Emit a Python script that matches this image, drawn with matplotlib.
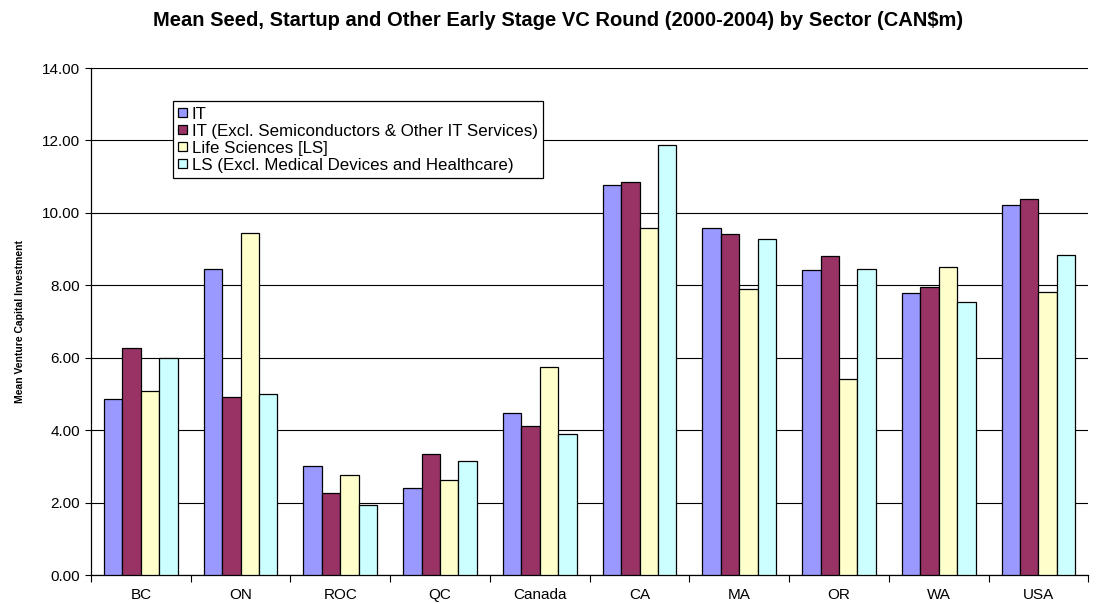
import numpy as np
import matplotlib
matplotlib.use("Agg")
import matplotlib.pyplot as plt

plt.rcParams["font.family"] = ["Liberation Sans", "DejaVu Sans"]

regions = ["BC", "ON", "ROC", "QC", "Canada", "CA", "MA", "OR", "WA", "USA"]

it_all = [4.85, 8.44, 3.02, 2.40, 4.47, 10.78, 9.58, 8.42, 7.80, 10.22]
it_excl = [6.28, 4.92, 2.26, 3.34, 4.12, 10.85, 9.42, 8.80, 7.95, 10.37]
ls_all = [5.07, 9.45, 2.76, 2.62, 5.75, 9.59, 7.91, 5.42, 8.50, 7.82]
ls_excl = [5.99, 4.99, 1.93, 3.15, 3.89, 11.88, 9.28, 8.44, 7.53, 8.85]

series_labels = [
    "IT",
    "IT (Excl. Semiconductors & Other IT Services)",
    "Life Sciences [LS]",
    "LS (Excl. Medical Devices and Healthcare)",
]
colors = ["#9999FF", "#993366", "#FFFFCC", "#CCFFFF"]

fig = plt.figure(figsize=(10.96, 6.04), dpi=100)
ax = fig.add_axes([0.083, 0.048, 0.910, 0.8394])

x = np.arange(len(regions))
bw = 0.185
offsets = (np.arange(4) - 1.5) * bw
for vals, off, col, lab in zip([it_all, it_excl, ls_all, ls_excl], offsets, colors, series_labels):
    ax.bar(x + off, vals, width=bw, color=col, edgecolor="black", linewidth=0.9,
           label=lab, zorder=3)

ax.set_xlim(-0.5, len(regions) - 0.5)
ax.set_ylim(0, 14)
ax.set_yticks(np.arange(0, 14.1, 2))
ax.set_yticklabels([f"{v:.2f}" for v in np.arange(0, 14.1, 2)])
ax.yaxis.grid(True, color="black", linewidth=0.8, zorder=0)
ax.set_axisbelow(True)

# labels sit under each group, tick marks sit between groups
ax.set_xticks(x)
ax.set_xticklabels(regions)
ax.set_xticks(np.arange(-0.5, len(regions)), minor=True)
ax.tick_params(axis="x", which="major", length=0, pad=9, labelsize=11)
ax.tick_params(axis="x", which="minor", length=5, width=0.8, direction="out")
ax.tick_params(axis="y", length=4, width=0.8, direction="out", labelsize=11, pad=4)

for side in ["top", "right"]:
    ax.spines[side].set_visible(False)
for side in ["left", "bottom"]:
    ax.spines[side].set_linewidth(0.9)
    ax.spines[side].set_color("black")

ax.set_ylabel("Mean Venture Capital Investment", fontsize=7.5, fontweight="bold", labelpad=12)

fig.suptitle("Mean Seed, Startup and Other Early Stage VC Round (2000-2004) by Sector (CAN$m)",
             fontsize=14.5, fontweight="bold", x=0.509, y=0.982)

leg = ax.legend(loc="upper left", bbox_to_anchor=(0.082, 0.935), fontsize=12.2,
                frameon=True, fancybox=False, edgecolor="black", framealpha=1,
                handlelength=0.5, handleheight=0.5, handletextpad=0.3,
                labelspacing=0.12, borderpad=0.33, borderaxespad=0)
leg.get_frame().set_linewidth(0.9)
leg.set_zorder(5)

fig.savefig("out.png", dpi=100)
